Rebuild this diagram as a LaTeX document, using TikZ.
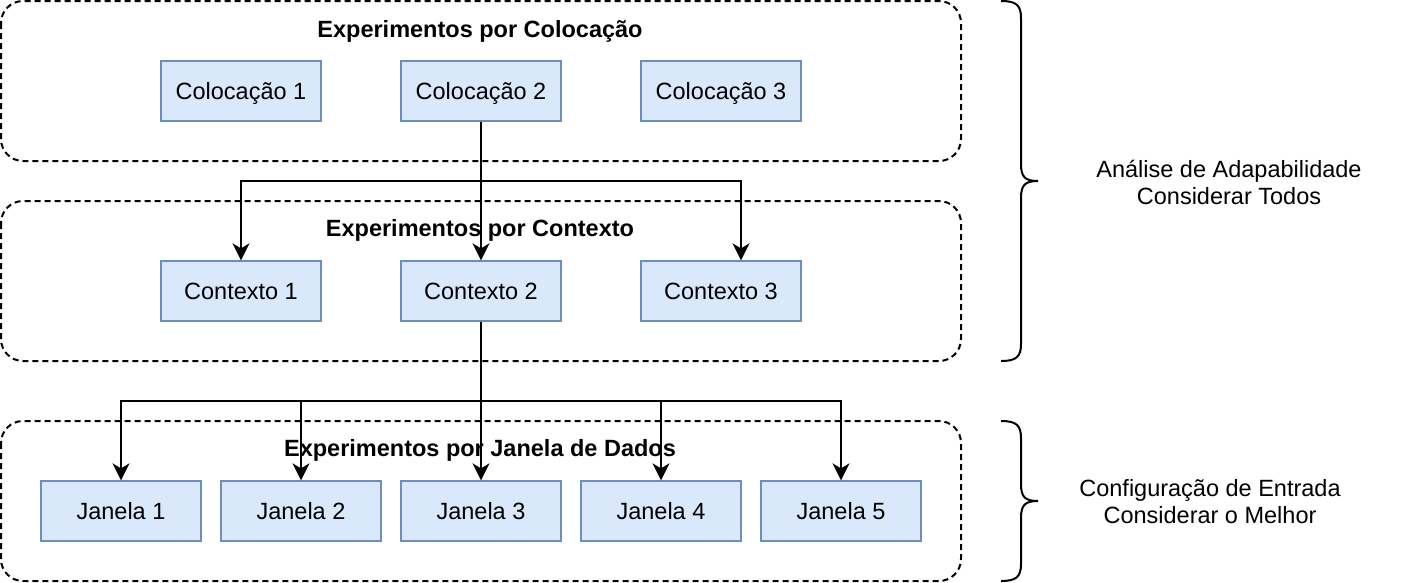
\documentclass[tikz,border=0pt]{standalone}
\usepackage{fontspec}
\setmainfont{Liberation Sans}
\usetikzlibrary{arrows.meta}
\definecolor{boxfill}{HTML}{DAE8FC}
\definecolor{boxdraw}{HTML}{6C8EBF}
\tikzset{
  container/.style={draw=black, line width=2pt, dash pattern=on 6pt off 4pt, rounded corners=22pt},
  bluebox/.style={draw=boxdraw, fill=boxfill, line width=1.3pt, minimum width=160pt, minimum height=60pt, inner sep=0pt, text height=16.8pt, text depth=0pt, font=\fontsize{23.5pt}{28pt}\selectfont},
  title/.style={font=\fontsize{23.5pt}{28pt}\selectfont\bfseries, inner sep=0pt, text height=16.8pt, text depth=0pt},
  note/.style={font=\fontsize{23.5pt}{27pt}\selectfont, align=center, inner sep=0pt},
  arr/.style={line width=2pt, -{Stealth[length=17pt,width=17pt,inset=5pt]}},
  brace/.style={line width=2pt}
}
\begin{document}
\begin{tikzpicture}[x=1pt,y=-1pt]
\useasboundingbox (0,0) rectangle (1402,582);
% containers
\draw[container] (1,1) rectangle (961,161);
\draw[container] (1,201) rectangle (961,361);
\draw[container] (1,421) rectangle (961,581);
% titles
\node[title] (t1) at (480,29) {Experimentos por Colocação};
\node[title] (t2) at (480,228) {Experimentos por Contexto};
\node[title] (t3) at (480,448) {Experimentos por Janela de Dados};
% boxes
\node[bluebox] (c1) at (241,91) {Colocação 1};
\node[bluebox] (c2) at (481,91) {Colocação 2};
\node[bluebox] (c3) at (721,91) {Colocação 3};
\node[bluebox] (x1) at (241,291) {Contexto 1};
\node[bluebox] (x2) at (481,291) {Contexto 2};
\node[bluebox] (x3) at (721,291) {Contexto 3};
\node[bluebox] (j1) at (121,511) {Janela 1};
\node[bluebox] (j2) at (301,511) {Janela 2};
\node[bluebox] (j3) at (481,511) {Janela 3};
\node[bluebox] (j4) at (661,511) {Janela 4};
\node[bluebox] (j5) at (841,511) {Janela 5};
% connectors
\coordinate (s1) at (481,181);
\coordinate (s2) at (481,401);
\draw[arr] (c2.south) -- (x2.north);
\draw[arr] (c2.south) -- (s1) -| (x1.north);
\draw[arr] (c2.south) -- (s1) -| ([xshift=20pt]x3.north);
\draw[arr] (x2.south) -- (j3.north);
\draw[arr] (x2.south) -- (s2) -| (j1.north);
\draw[arr] (x2.south) -- (s2) -| (j2.north);
\draw[arr] (x2.south) -- (s2) -| (j4.north);
\draw[arr] (x2.south) -- (s2) -| (j5.north);
% braces
\draw[brace] (1001,1) .. controls (1016,1) and (1021,5) .. (1021,18) -- (1021,164)
  .. controls (1021,177) and (1025,181) .. (1038,181)
  .. controls (1025,181) and (1021,185) .. (1021,198) -- (1021,344)
  .. controls (1021,357) and (1016,361) .. (1001,361);
\draw[brace] (1001,421) .. controls (1016,421) and (1021,425) .. (1021,438) -- (1021,484)
  .. controls (1021,497) and (1025,501) .. (1038,501)
  .. controls (1025,501) and (1021,505) .. (1021,518) -- (1021,564)
  .. controls (1021,577) and (1016,581) .. (1001,581);
% notes
\node[note] (n1) at (1229,182) {Análise de Adapabilidade\\Considerar Todos};
\node[note] (n2) at (1210,502) {Configuração de Entrada\\Considerar o Melhor};
\end{tikzpicture}
\end{document}
